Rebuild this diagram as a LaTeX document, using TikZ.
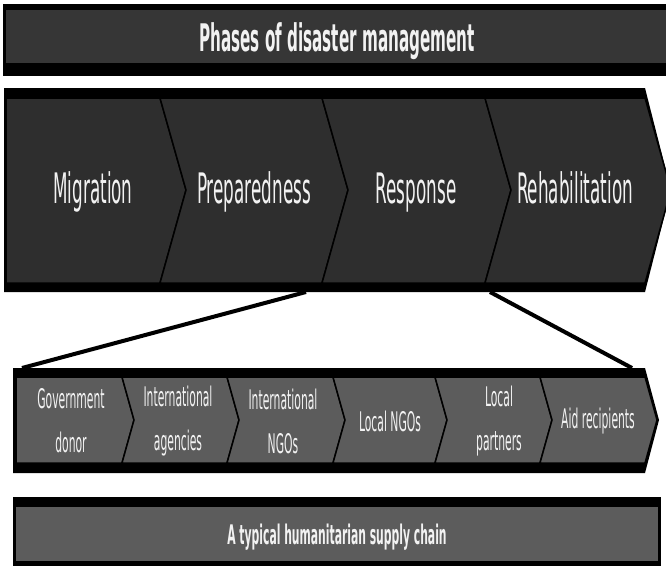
\documentclass[tikz,border=0pt]{standalone}
\usepackage{fontspec}
\setmainfont{DejaVu Sans}[FakeStretch=0.4]
\usepackage{xcolor}
\usepackage{tikz}
\definecolor{bandgray}{HTML}{363636}
\definecolor{phasegray}{HTML}{2E2E2E}
\definecolor{chaingray}{HTML}{5C5C5C}
\definecolor{labelwhite}{HTML}{F2F2F2}

\begin{document}
\begin{tikzpicture}[x=1pt,y=-1pt,
	phase/.style={fill=phasegray, draw=black, line width=1.5pt},
	link/.style={fill=chaingray, draw=black, line width=1.5pt},
	funnel/.style={black, line width=4pt},
	phaselabel/.style={text=labelwhite, font=\fontsize{42}{50}\selectfont, inner sep=0pt, anchor=base},
	linklabel/.style={text=labelwhite, font=\fontsize{27}{44}\selectfont, align=center, inner sep=0pt},
	bannerlabel/.style={text=labelwhite, font=\bfseries, inner sep=0pt, anchor=base}]
	\useasboundingbox (0,0) rectangle (666,565);
	% top banner
	\fill[black] (3,4) rectangle (670,76);
	\fill[bandgray] (6,10) rectangle (670,63);
	\node[bannerlabel, font=\bfseries\fontsize{38}{44}\selectfont] (phasestitle) at (337,51) {Phases of disaster management};
	% phases row
	\fill[black] (4,88) -- (645,88) -- (671,190) -- (645,292) -- (4,292) -- cycle;
	\foreach \xa/\xb/\d in {6/160/0, 160/322/26, 322/485/26, 485/645/26}
		\draw[phase] (\xa,98) -- (\xb,98) -- (\xb+26,190) -- (\xb,283) -- (\xa,283) -- (\xa+\d,190) -- cycle;
	\node[phaselabel] (migration) at (93,203) {Migration};
	\node[phaselabel] (preparedness) at (254,203) {Preparedness};
	\node[phaselabel] (response) at (416,203) {Response};
	\node[phaselabel] (rehab) at (575,203) {Rehabilitation};
	% supply chain row
	\fill[black] (13,368) -- (645,368) -- (659,420) -- (645,473) -- (13,473) -- cycle;
	\foreach \xa/\xb/\d in {16/122/0, 122/227/12, 227/333/12, 333/435/12, 435/540/12, 540/645/12}
		\draw[link] (\xa,377) -- (\xb,377) -- (\xb+12,420) -- (\xb,463) -- (\xa,463) -- (\xa+\d,420) -- cycle;
	\node[linklabel] (donor) at (71,421) {Government\\donor};
	\node[linklabel] (agencies) at (178,421) {International\\agencies};
	\node[linklabel] (ngos) at (283,421) {International\\NGOs};
	\node[linklabel] (localngos) at (390,421) {Local NGOs};
	\node[linklabel] (partners) at (499,421) {Local\\partners};
	\node[linklabel] (recipients) at (598,421) {Aid recipients};
	% zoom lines
	\coordinate (prepfoot) at (306,292);
	\coordinate (respfoot) at (490,292);
	\coordinate (chainleft) at (22,368);
	\coordinate (chainright) at (632,368);
	\draw[funnel] (prepfoot) -- (chainleft);
	\draw[funnel] (respfoot) -- (chainright);
	% bottom banner
	\fill[black] (13,497) rectangle (661,566);
	\fill[chaingray] (16,507) rectangle (658,561);
	\node[bannerlabel, font=\bfseries\fontsize{27}{32}\selectfont] (chaintitle) at (337,544) {A typical humanitarian supply chain};
\end{tikzpicture}
\end{document}
